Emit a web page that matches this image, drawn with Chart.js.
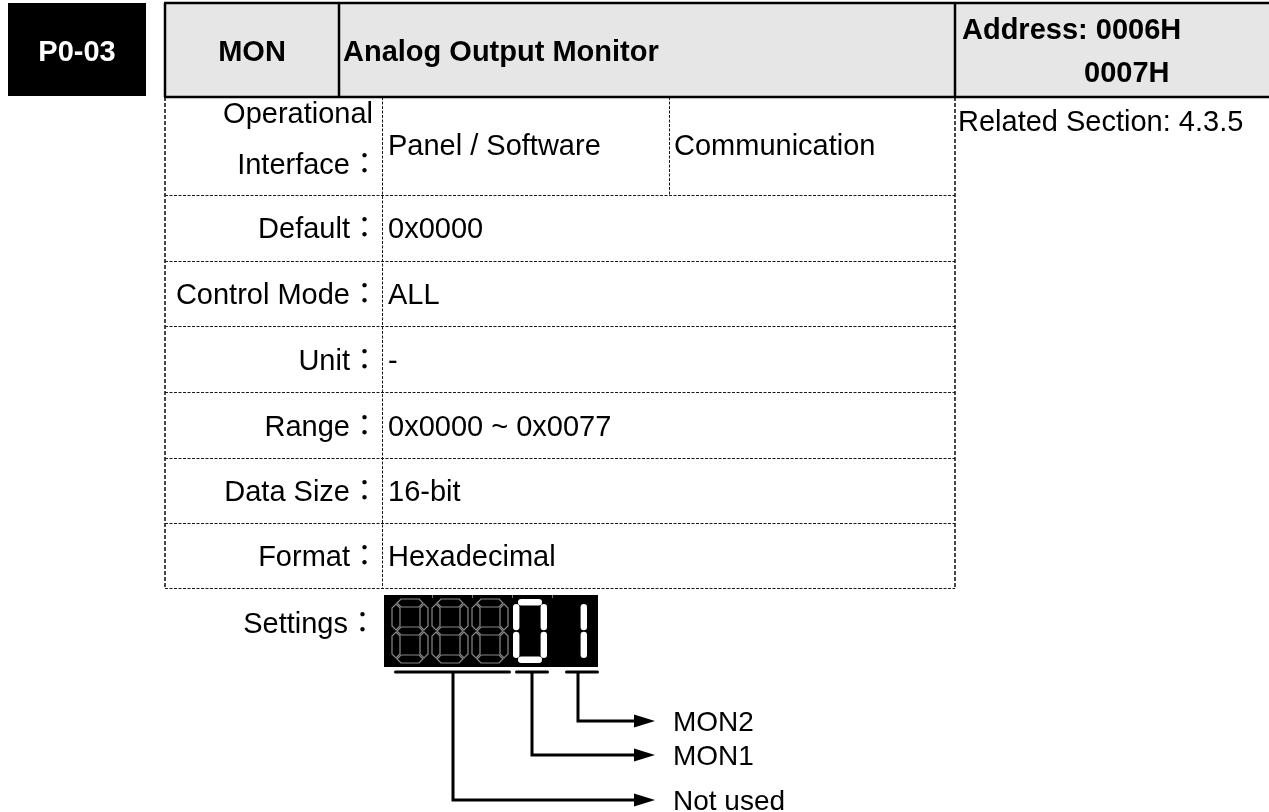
<!DOCTYPE html>
<html><head><meta charset="utf-8">
<script src="https://cdn.jsdelivr.net/npm/chart.js@4/dist/chart.umd.min.js"></script>
<style>html,body{margin:0;padding:0;background:#fff;overflow:hidden}#wrap{width:1269px;height:812px;position:relative}</style>
</head><body><div id="wrap"><canvas id="c"></canvas></div>
<script>
// ---- content ----
const paramCode = 'P0-03';
const paramName = 'MON';
const paramTitle = 'Analog Output Monitor';
const addressLines = ['Address: 0006H', '0007H'];
const relatedSection = 'Related Section: 4.3.5';
const interfaceLabel = ['Operational', 'Interface：'];
const interfaceValues = ['Panel / Software', 'Communication'];
const rowLabels = ['Default：', 'Control Mode：', 'Unit：', 'Range：', 'Data Size：', 'Format：'];
const rowValues = ['0x0000', 'ALL', '-', '0x0000 ~ 0x0077', '16-bit', 'Hexadecimal'];
const settingsLabel = 'Settings：';
const displayDigits = ['8', '8', '8', '0', '1'];
const displayLit = [false, false, false, true, true];
const digitGroups = ['Not used', 'MON1', 'MON2'];

// ---- layout ----
const L = {
  codeBox: [8, 3, 146, 96],
  hdrTop: 3, hdrBot: 97, tblLeft: 165, colName: 339, colAddr: 955, hdrRight: 1269,
  colLabel: 382, colComm: 669,
  rowLines: [195, 261, 326, 392, 458, 523, 588],
  labelRight: 379, valueLeft: 388,
  disp: [384, 595, 598, 667],
  digitCx: [410, 450, 490, 530, 570],
  digitTop: 599, digitBot: 663,
  bars: [[394, 511], [515, 549], [565, 599]], barY: 672,
  stems: [453, 532, 578], arrowY: [800, 755, 721], arrowTip: 655, textX: 673
};
const SEG = { '8': 'abcdefg', '0': 'abcdef', '1': 'bc' };
const FONT = '"Liberation Sans", Arial, "Noto Sans CJK TC", sans-serif';

// connector datasets (leader lines from digit groups to their labels)
const connectors = digitGroups.map((g, i) => ({
  label: g,
  data: [
    { x: L.stems[i], y: L.barY },
    { x: L.stems[i], y: L.arrowY[i] },
    { x: L.arrowTip - 18, y: L.arrowY[i] }
  ],
  borderColor: '#000', borderWidth: 3, pointRadius: 0, tension: 0,
  borderJoinStyle: 'miter', fill: false
}));

const tablePlugin = {
  id: 'table',
  beforeDatasetsDraw(chart) {
    const ctx = chart.ctx, X = v => chart.scales.x.getPixelForValue(v), Y = v => chart.scales.y.getPixelForValue(v);
    ctx.save();
    // code box
    const cb = L.codeBox;
    ctx.fillStyle = '#000';
    ctx.fillRect(X(cb[0]), Y(cb[1]), X(cb[2]) - X(cb[0]), Y(cb[3]) - Y(cb[1]));
    // header fill
    ctx.fillStyle = '#e6e6e6';
    ctx.fillRect(X(L.tblLeft), Y(L.hdrTop), X(L.hdrRight) - X(L.tblLeft), Y(L.hdrBot) - Y(L.hdrTop));
    // dashed body lines
    ctx.strokeStyle = '#1a1a1a';
    const seg = (x1, y1, x2, y2, w, dash) => {
      ctx.lineWidth = w; ctx.setLineDash(dash);
      ctx.beginPath(); ctx.moveTo(X(x1), Y(y1)); ctx.lineTo(X(x2), Y(y2)); ctx.stroke();
    };
    L.rowLines.forEach(y => seg(L.tblLeft, y + 0.5, L.colAddr, y + 0.5, 1, [3, 1.5]));
    seg(L.tblLeft, L.hdrBot, L.tblLeft, L.rowLines[6] + 1, 1.6, [4, 2]);
    seg(L.colLabel + 0.5, L.hdrBot, L.colLabel + 0.5, L.rowLines[6] + 1, 1, [3, 1.5]);
    seg(L.colComm + 0.5, L.hdrBot, L.colComm + 0.5, L.rowLines[0], 1, [3, 1.5]);
    seg(L.colAddr, L.hdrBot, L.colAddr, L.rowLines[6] + 1, 1.6, [4, 2]);
    // solid header borders
    ctx.setLineDash([]);
    ctx.strokeStyle = '#000';
    seg(L.tblLeft - 1, L.hdrTop, L.hdrRight, L.hdrTop, 2.5, []);
    seg(L.tblLeft - 1, L.hdrBot, L.hdrRight, L.hdrBot, 2.5, []);
    [L.tblLeft, L.colName, L.colAddr].forEach(x => seg(x, L.hdrTop, x, L.hdrBot, 2.5, []));

    // texts
    ctx.textBaseline = 'alphabetic';
    ctx.fillStyle = '#fff';
    ctx.font = 'bold 29px ' + FONT;
    ctx.textAlign = 'center';
    ctx.fillText(paramCode, X((cb[0] + cb[2]) / 2), Y(61));
    ctx.fillStyle = '#000';
    ctx.fillText(paramName, X((L.tblLeft + L.colName) / 2), Y(61));
    ctx.textAlign = 'left';
    ctx.fillText(paramTitle, X(343), Y(61));
    ctx.fillText(addressLines[0], X(962), Y(39));
    ctx.fillText(addressLines[1], X(1084), Y(82));

    ctx.font = '29px ' + FONT;
    ctx.fillText(relatedSection, X(958), Y(131));
    ctx.textAlign = 'right';
    ctx.fillText(interfaceLabel[0], X(373), Y(123));
    ctx.fillText(interfaceLabel[1], X(L.labelRight), Y(174));
    ctx.textAlign = 'left';
    ctx.fillText(interfaceValues[0], X(L.valueLeft), Y(155));
    ctx.fillText(interfaceValues[1], X(L.colComm + 5), Y(155));
    const bases = [238, 304, 370, 436, 501, 566];
    rowLabels.forEach((lab, i) => {
      ctx.textAlign = 'right';
      ctx.fillText(lab, X(L.labelRight), Y(bases[i]));
      ctx.textAlign = 'left';
      ctx.fillText(rowValues[i], X(L.valueLeft), Y(bases[i]));
    });
    ctx.textAlign = 'right';
    ctx.fillText(settingsLabel, X(L.labelRight - 2), Y(633));

    // seven-segment display
    const d = L.disp;
    ctx.fillStyle = '#000';
    ctx.fillRect(X(d[0]), Y(d[1]), X(d[2]) - X(d[0]), Y(d[3]) - Y(d[1]));
    ctx.strokeStyle = '#777'; ctx.lineWidth = 1;
    [432, 472, 512, 552].forEach(x => { ctx.beginPath(); ctx.moveTo(X(x) + 0.5, Y(d[1])); ctx.lineTo(X(x) + 0.5, Y(d[1] + 3)); ctx.stroke(); });
    displayDigits.forEach((ch, i) => drawDigit(ctx, X, Y, L.digitCx[i], ch, displayLit[i]));

    // group bars
    ctx.strokeStyle = '#000'; ctx.lineWidth = 3; ctx.lineCap = 'round';
    L.bars.forEach(b => { ctx.beginPath(); ctx.moveTo(X(b[0] + 1.5), Y(L.barY)); ctx.lineTo(X(b[1] - 1.5), Y(L.barY)); ctx.stroke(); });
    ctx.restore();
  },
  afterDatasetsDraw(chart) {
    const ctx = chart.ctx, X = v => chart.scales.x.getPixelForValue(v), Y = v => chart.scales.y.getPixelForValue(v);
    ctx.save();
    ctx.fillStyle = '#000';
    chart.data.datasets.forEach((ds, i) => {
      const p = ds.data[ds.data.length - 1];
      ctx.beginPath();
      ctx.moveTo(X(L.arrowTip), Y(p.y));
      ctx.lineTo(X(L.arrowTip - 21), Y(p.y - 6.5));
      ctx.lineTo(X(L.arrowTip - 21), Y(p.y + 6.5));
      ctx.closePath(); ctx.fill();
      ctx.font = '28px ' + FONT;
      ctx.textAlign = 'left'; ctx.textBaseline = 'middle';
      ctx.fillText(ds.label, X(L.textX), Y(p.y + 2));
    });
    ctx.restore();
  }
};

function drawDigit(ctx, X, Y, cx, ch, lit) {
  const segs = SEG[ch] || '';
  const top = L.digitTop, bot = L.digitBot, mid = (top + bot) / 2;
  if (!lit) {
    const half = 18, h = 4, gap = 1;
    const xL = cx - half + h, xR = cx + half - h, yA = top + h, yD = bot - h;
    const hor = (y) => [[xL + gap, y], [xL + gap + h, y - h], [xR - gap - h, y - h], [xR - gap, y], [xR - gap - h, y + h], [xL + gap + h, y + h]];
    const ver = (x, y1, y2) => [[x, y1], [x + h, y1 + h], [x + h, y2 - h], [x, y2], [x - h, y2 - h], [x - h, y1 + h]];
    const shapes = { a: hor(yA), g: hor(mid), d: hor(yD), f: ver(xL, yA + gap, mid - gap), b: ver(xR, yA + gap, mid - gap), e: ver(xL, mid + gap, yD - gap), c: ver(xR, mid + gap, yD - gap) };
    ctx.strokeStyle = '#8a8a8a'; ctx.lineWidth = 1.2; ctx.lineJoin = 'miter';
    for (const s of segs) {
      const pts = shapes[s];
      ctx.beginPath();
      pts.forEach((p, k) => k ? ctx.lineTo(X(p[0]), Y(p[1])) : ctx.moveTo(X(p[0]), Y(p[1])));
      ctx.closePath(); ctx.stroke();
    }
  } else {
    const half = 17, h = 3.2, gap = 5;
    const xL = cx - half + h, xR = cx + half - h, yA = top + h, yD = bot - h;
    const lines = { a: [xL + gap, yA, xR - gap, yA], g: [xL + gap, mid, xR - gap, mid], d: [xL + gap, yD, xR - gap, yD],
      f: [xL, yA + gap, xL, mid - gap + 1], b: [xR, yA + gap, xR, mid - gap + 1], e: [xL, mid + gap - 1, xL, yD - gap], c: [xR, mid + gap - 1, xR, yD - gap] };
    ctx.strokeStyle = '#fff'; ctx.lineWidth = 2 * h; ctx.lineCap = 'round';
    for (const s of segs) {
      const q = lines[s];
      ctx.beginPath(); ctx.moveTo(X(q[0]), Y(q[1])); ctx.lineTo(X(q[2]), Y(q[3])); ctx.stroke();
    }
    ctx.lineCap = 'butt';
  }
}

new Chart(document.getElementById('c'), {
  type: 'line',
  data: { datasets: connectors },
  options: {
    responsive: true, maintainAspectRatio: false, animation: false,
    layout: { padding: 0 },
    plugins: { legend: { display: false }, tooltip: { enabled: false }, title: { display: false } },
    events: [],
    scales: {
      x: { type: 'linear', min: 0, max: 1269, display: false },
      y: { type: 'linear', min: 0, max: 812, reverse: true, display: false }
    }
  },
  plugins: [tablePlugin]
});
</script></body></html>
